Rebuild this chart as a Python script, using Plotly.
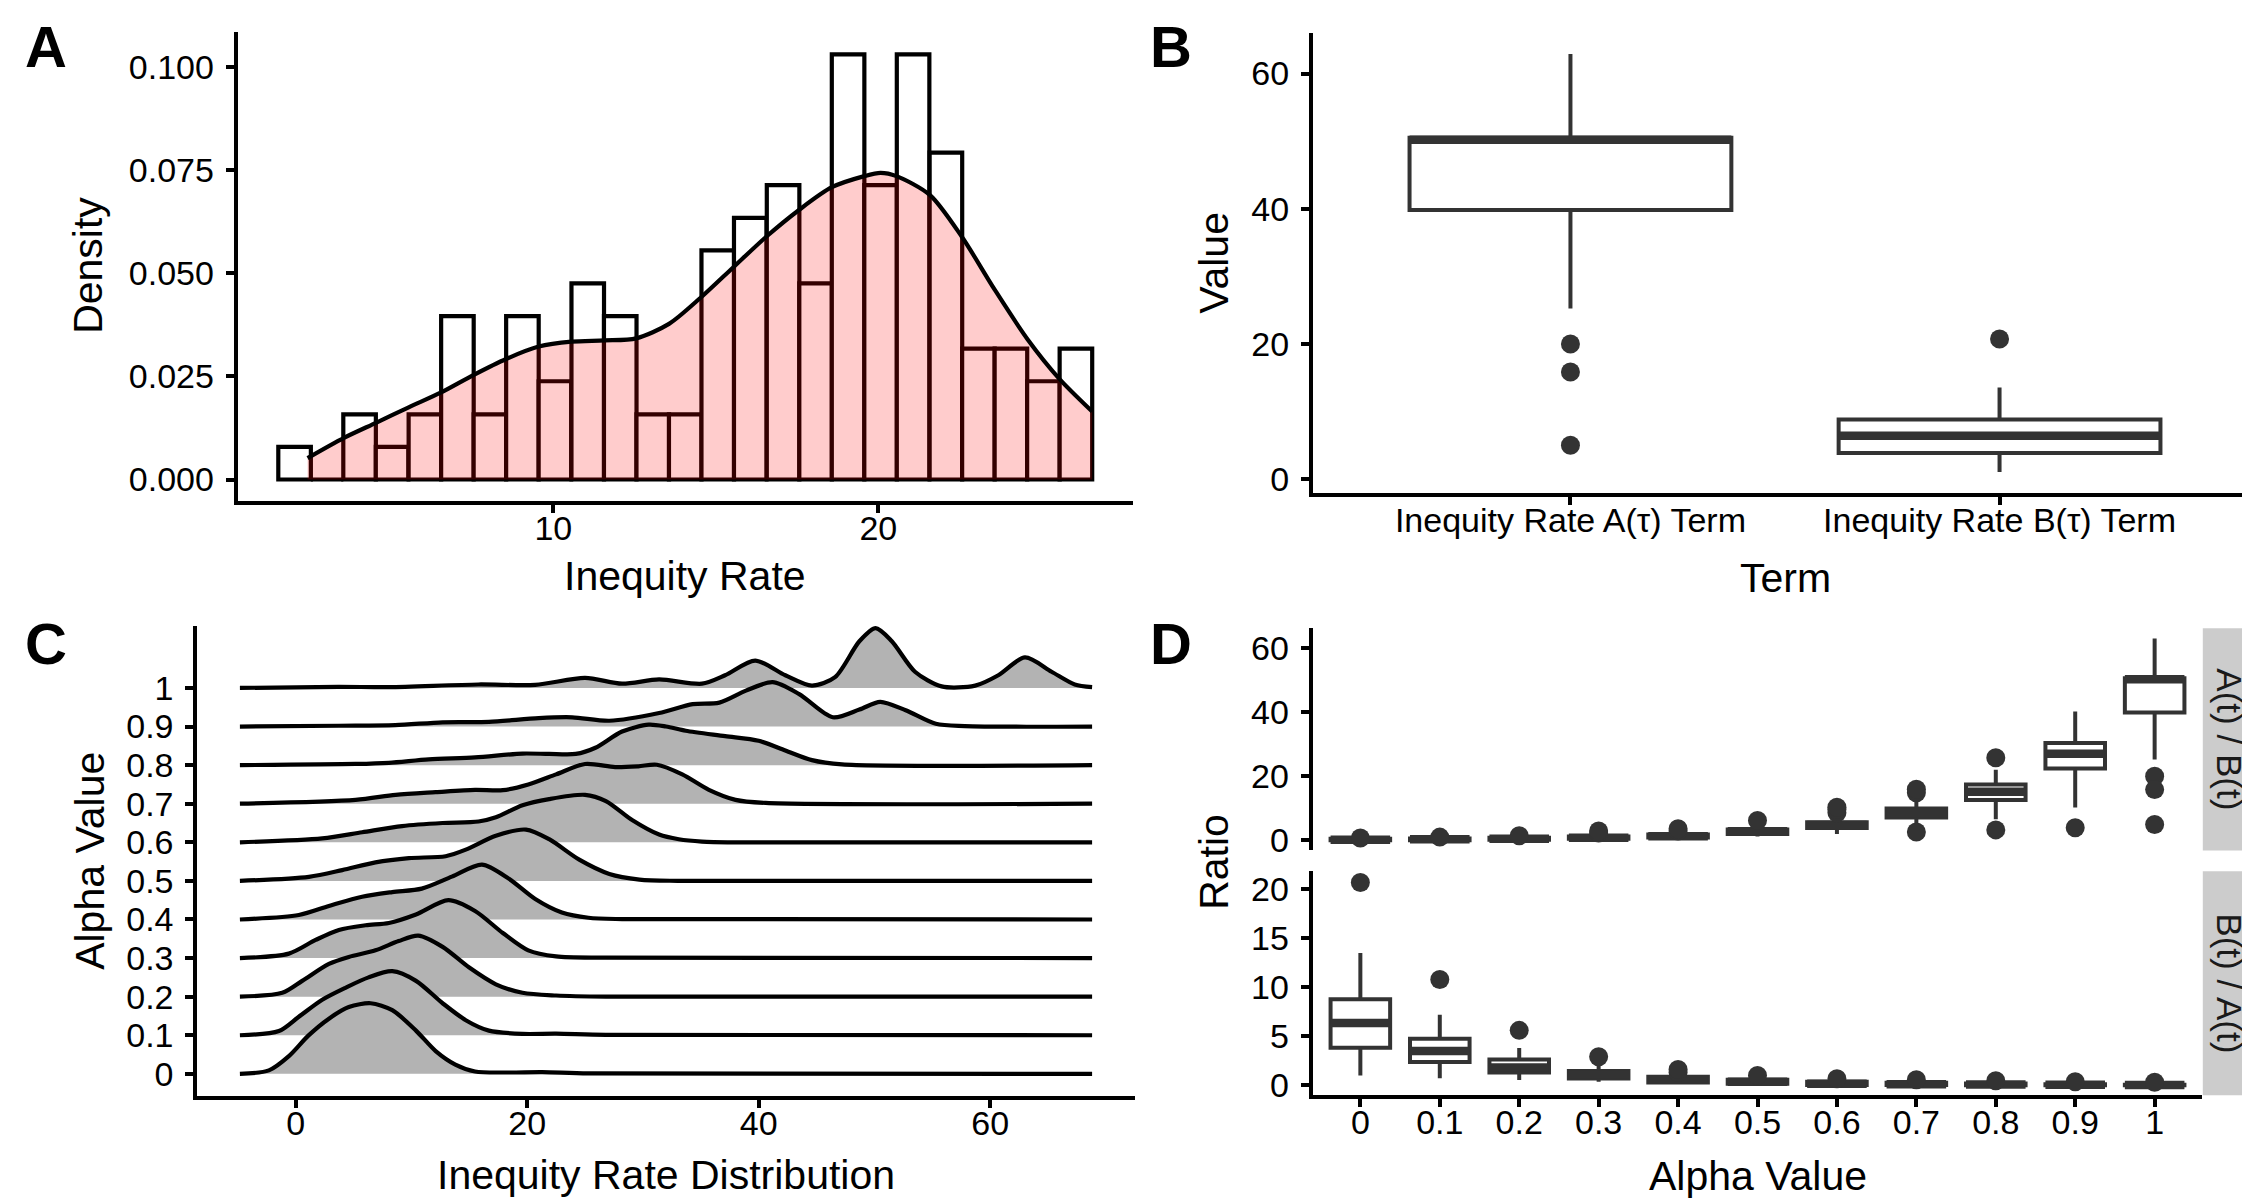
import plotly.graph_objects as go

W, H = 2250, 1200
FONT = "Liberation Sans, Arial, Helvetica, sans-serif"
BOX_COLOR = "#333333"

# ---------------- Panel A: histogram + density ----------------
hist_centers = [2.04, 3.04, 4.04, 5.04, 6.05, 7.05, 8.05, 9.05, 10.05, 11.06, 12.06, 13.06, 14.06,
                15.06, 16.06, 17.07, 18.07, 19.07, 20.07, 21.07, 22.08, 23.08, 24.08, 25.08, 26.08]
hist_width = 1.0016
hist_density = [0.0079, 0.0, 0.0158, 0.0079, 0.0158, 0.0396, 0.0158, 0.0396, 0.0238, 0.0475, 0.0396,
                0.0158, 0.0158, 0.0555, 0.0634, 0.0713, 0.0475, 0.1030, 0.0713, 0.1030, 0.0792,
                0.0317, 0.0317, 0.0238, 0.0317]
dens_x = [2.44, 3.56, 4.56, 5.55, 6.55, 7.54, 8.55, 9.55, 10.56, 11.57, 12.55, 13.56, 14.54, 15.55,
          16.55, 17.56, 18.57, 19.57, 20.07, 20.56, 21.59, 22.57, 23.58, 24.59, 25.57, 26.58]
dens_y = [0.0052, 0.0101, 0.0138, 0.0175, 0.0211, 0.0253, 0.0292, 0.0322, 0.0334, 0.0337, 0.0342,
          0.0377, 0.0441, 0.0515, 0.0588, 0.0653, 0.0708, 0.0735, 0.0743, 0.0735, 0.0689, 0.0588,
          0.0460, 0.0340, 0.0244, 0.0165]
a_xticks = [10, 20]
a_yticks = [0, 0.025, 0.05, 0.075, 0.1]

# ---------------- Panel B: boxplots of terms ----------------
terms = ["Inequity Rate A(τ) Term", "Inequity Rate B(τ) Term"]
term_pos = [1, 2]
term_q1 = [39.8, 3.83]
term_med = [50.2, 6.36]
term_q3 = [50.5, 8.77]
term_lo = [25.2, 1.0]
term_hi = [62.9, 13.5]
term_outliers = [[19.95, 15.8, 4.95], [20.7]]
b_yticks = [0, 20, 40, 60]

# ---------------- Panel C: ridgelines ----------------
alpha_labels = ["0", "0.1", "0.2", "0.3", "0.4", "0.5", "0.6", "0.7", "0.8", "0.9", "1"]
alpha_values = [0.0, 0.1, 0.2, 0.3, 0.4, 0.5, 0.6, 0.7, 0.8, 0.9, 1.0]
ridge_scale = 0.1

ridge0_x = [-4.81, -2.31, -0.58, 1.1, 2.88, 4.6, 6.48, 8.35, 10.4, 12.1, 13.8, 15.5, 18.4, 21.3, 25.3, 68.8]
ridge0_h = [0, 0.09, 0.46, 0.99, 1.43, 1.73, 1.83, 1.65, 1.12, 0.59, 0.24, 0.06, 0.035, 0.045, 0.01, 0]
ridge1_x = [-4.81, -1.44, 0.28, 2.3, 4.3, 6.3, 8.35, 10.4, 12.7, 14.7, 16.7, 19.6, 22.5, 26.8, 68.8]
ridge1_h = [0, 0.11, 0.48, 0.92, 1.23, 1.50, 1.66, 1.41, 0.83, 0.39, 0.12, 0.035, 0.04, 0.01, 0]
ridge2_x = [-4.81, -1.15, 0.57, 2.88, 4.6, 6.9, 8.9, 10.6, 12.7, 14.97, 17.3, 19.6, 22.5, 26.8, 68.8]
ridge2_h = [0, 0.10, 0.41, 0.85, 1.03, 1.20, 1.44, 1.58, 1.29, 0.76, 0.32, 0.10, 0.03, 0.0, 0]
ridge3_x = [-4.81, -0.58, 1.73, 3.74, 6.05, 8.06, 10.4, 13.2, 15.5, 17.9, 20.1, 22.5, 26.8, 68.8]
ridge3_h = [0, 0.115, 0.47, 0.73, 0.85, 0.91, 1.13, 1.50, 1.22, 0.65, 0.20, 0.044, 0.01, 0]
ridge4_x = [-4.81, 0.28, 2.88, 5.75, 8.35, 10.9, 13.5, 16.1, 18.4, 20.7, 23.0, 25.3, 28.2, 68.8]
ridge4_h = [0, 0.115, 0.35, 0.59, 0.71, 0.80, 1.11, 1.42, 1.06, 0.53, 0.18, 0.044, 0.01, 0]
ridge5_x = [-4.81, 1.15, 4.03, 6.9, 9.79, 12.96, 14.7, 17.3, 19.9, 21.9, 24.5, 27.1, 29.7, 33.0, 68.8]
ridge5_h = [0, 0.106, 0.28, 0.48, 0.59, 0.64, 0.81, 1.17, 1.33, 1.08, 0.55, 0.18, 0.035, 0.0, 0]
ridge6_x = [-4.81, 2.3, 5.75, 9.2, 12.7, 15.8, 17.3, 19.6, 21.9, 25.0, 26.8, 29.1, 31.4, 33.1, 35.1, 38.0, 68.8]
ridge6_h = [0, 0.10, 0.26, 0.42, 0.50, 0.54, 0.65, 0.96, 1.12, 1.23, 1.07, 0.57, 0.20, 0.08, 0.02, 0, 0]
ridge7_x = [-4.81, 5.18, 8.64, 12.1, 15.5, 17.9, 20.1, 22.5, 25.0, 27.6, 29.6, 31.2, 33.4, 35.7, 38.0, 40.6, 68.8]
ridge7_h = [0, 0.10, 0.23, 0.30, 0.36, 0.35, 0.50, 0.76, 1.03, 0.95, 0.97, 1.01, 0.76, 0.36, 0.10, 0.02, 0]
ridge8_x = [-4.81, 5.18, 8.06, 11.5, 15.5, 19.6, 21.9, 24.2, 25.9, 28.2, 30.5, 32.0, 33.7, 37.1, 40.0,
            42.3, 44.6, 47.2, 68.8]
ridge8_h = [0, 0.03, 0.06, 0.15, 0.20, 0.30, 0.29, 0.29, 0.45, 0.87, 1.05, 1.00, 0.89, 0.75, 0.63,
            0.38, 0.13, 0.02, 0]
ridge9_x = [-4.81, 3.74, 8.6, 12.7, 16.7, 21.0, 23.9, 27.1, 31.4, 34.3, 36.6, 38.9, 41.2, 43.5, 46.4,
            48.7, 50.5, 52.7, 55.3, 57.8, 68.8]
ridge9_h = [0, 0.02, 0.035, 0.11, 0.12, 0.22, 0.24, 0.15, 0.35, 0.58, 0.62, 0.93, 1.15, 0.84, 0.24,
            0.44, 0.64, 0.42, 0.07, 0.01, 0]
ridge10_x = [-4.81, 3.7, 8.06, 15.8, 20.7, 25.0, 28.2, 31.4, 35.1, 37.1, 39.7, 42.3, 44.6, 46.6, 48.7,
             50.1, 51.5, 53.5, 55.8, 58.7, 60.7, 63.0, 65.3, 67.3, 68.8]
ridge10_h = [0, 0.03, 0.02, 0.09, 0.08, 0.26, 0.11, 0.22, 0.11, 0.33, 0.71, 0.33, 0.06, 0.28, 1.21,
             1.55, 1.21, 0.42, 0.04, 0.06, 0.33, 0.79, 0.42, 0.09, 0.02]
c_xticks = [0, 20, 40, 60]

# ---------------- Panel D: ratio boxplots ----------------
alpha_pos = [0, 1, 2, 3, 4, 5, 6, 7, 8, 9, 10]
# A(t) / B(t)
ab_q1 = [0.0, 0.05, 0.2, 0.5, 0.9, 2.0, 3.8, 7.1, 12.6, 22.4, 39.8]
ab_med = [0.2, 0.3, 0.5, 0.8, 1.3, 2.8, 4.8, 8.5, 15.1, 27.0, 50.2]
ab_q3 = [0.5, 0.6, 0.8, 1.2, 1.8, 3.4, 5.6, 9.9, 17.4, 30.3, 50.5]
ab_lo = [0.0, 0.0, 0.0, 0.2, 0.5, 1.2, 1.95, 5.0, 6.6, 10.2, 25.2]
ab_hi = [0.5, 0.6, 0.9, 1.8, 2.6, 4.5, 7.5, 12.5, 22.0, 40.1, 62.9]
ab_outliers = [[0.7], [1.0], [1.4], [2.3, 2.9], [2.9, 3.6], [6.2], [8.6, 9.6, 10.3],
               [14.8, 15.9, 2.6], [25.7, 3.25], [3.9], [19.95, 15.8, 4.95]]
# B(t) / A(t)
ba_q1 = [3.83, 2.38, 1.3, 0.69, 0.28, 0.15, 0.02, 0.01, 0.0, 0.0, 0.0]
ba_med = [6.36, 3.5, 1.8, 1.1, 0.6, 0.35, 0.15, 0.1, 0.07, 0.04, 0.02]
ba_q3 = [8.77, 4.75, 2.62, 1.44, 0.87, 0.55, 0.35, 0.25, 0.18, 0.1, 0.05]
ba_lo = [1.0, 0.7, 0.53, 0.35, 0.1, 0.02, 0.0, 0.0, 0.0, 0.0, 0.0]
ba_hi = [13.5, 7.2, 3.8, 2.0, 1.1, 0.8, 0.55, 0.4, 0.3, 0.2, 0.1]
ba_outliers = [[20.7], [10.8], [5.6], [2.9], [1.3, 1.6], [1.0], [0.65], [0.55], [0.45], [0.35], [0.3]]
d_top_yticks = [0, 20, 40, 60]
d_bot_yticks = [0, 5, 10, 15, 20]
strip_labels = ["A(t) / B(t)", "B(t) / A(t)"]

BOX_WIDTH = 0.75
LINE_W = 4.2
BOX_LINE_W = 4
MEDIAN_W = 8.5


def px_x(p):
    return p / W


def px_y(p):
    return 1 - p / H


fig = go.Figure()

# ---- Panel A traces
fig.add_trace(go.Bar(x=hist_centers, y=hist_density, width=hist_width,
                     marker=dict(color="white", line=dict(color="black", width=LINE_W)),
                     xaxis="x", yaxis="y", showlegend=False, hoverinfo="skip"))
fig.add_trace(go.Scatter(x=dens_x, y=dens_y, mode="lines", fill="tozeroy",
                         fillcolor="rgba(255,0,0,0.2)",
                         line=dict(color="black", width=LINE_W, shape="spline", smoothing=0.8),
                         xaxis="x", yaxis="y", showlegend=False, hoverinfo="skip"))


def add_boxes(pos, q1, med, q3, lo, hi, outliers, xa, ya):
    fig.add_trace(go.Box(x=pos, q1=q1, median=med, q3=q3, lowerfence=lo, upperfence=hi,
                         width=BOX_WIDTH, fillcolor="white",
                         line=dict(color=BOX_COLOR, width=BOX_LINE_W), whiskerwidth=0,
                         boxpoints=False, xaxis=xa, yaxis=ya, showlegend=False,
                         hoverinfo="skip"))
    mx, my = [], []
    for p, m in zip(pos, med):
        mx += [p - BOX_WIDTH / 2, p + BOX_WIDTH / 2, None]
        my += [m, m, None]
    fig.add_trace(go.Scatter(x=mx, y=my, mode="lines", line=dict(color=BOX_COLOR, width=MEDIAN_W),
                             xaxis=xa, yaxis=ya, showlegend=False, hoverinfo="skip"))
    ox, oy = [], []
    for p, outs in zip(pos, outliers):
        for v in outs:
            ox.append(p)
            oy.append(v)
    fig.add_trace(go.Scatter(x=ox, y=oy, mode="markers",
                             marker=dict(color=BOX_COLOR, size=19, line=dict(width=0)),
                             xaxis=xa, yaxis=ya, showlegend=False, hoverinfo="skip"))


# ---- Panel B traces
add_boxes(term_pos, term_q1, term_med, term_q3, term_lo, term_hi, term_outliers, "x2", "y2")

# ---- Panel C traces (top ridge first so lower ridges overlay)
ridges = [
    (ridge0_x, ridge0_h), (ridge1_x, ridge1_h), (ridge2_x, ridge2_h), (ridge3_x, ridge3_h),
    (ridge4_x, ridge4_h), (ridge5_x, ridge5_h), (ridge6_x, ridge6_h), (ridge7_x, ridge7_h),
    (ridge8_x, ridge8_h), (ridge9_x, ridge9_h), (ridge10_x, ridge10_h),
]
for a, (rx, rh) in reversed(list(zip(alpha_values, ridges))):
    fig.add_trace(go.Scatter(x=[rx[0], rx[-1]], y=[a, a], mode="lines",
                             line=dict(width=0, color="rgba(0,0,0,0)"),
                             xaxis="x3", yaxis="y3", showlegend=False, hoverinfo="skip"))
    fig.add_trace(go.Scatter(x=rx, y=[a + h * ridge_scale for h in rh], mode="lines",
                             fill="tonexty", fillcolor="#B3B3B3",
                             line=dict(color="black", width=LINE_W, shape="spline", smoothing=0.8),
                             xaxis="x3", yaxis="y3", showlegend=False, hoverinfo="skip"))

# ---- Panel D traces
add_boxes(alpha_pos, ab_q1, ab_med, ab_q3, ab_lo, ab_hi, ab_outliers, "x4", "y4")
add_boxes(alpha_pos, ba_q1, ba_med, ba_q3, ba_lo, ba_hi, ba_outliers, "x5", "y5")

# ---- axes
common = dict(showline=True, linecolor="black", linewidth=4, ticks="outside", ticklen=8,
              tickwidth=4, tickcolor="black", showgrid=False, zeroline=False,
              tickfont=dict(family=FONT, size=34, color="black"), fixedrange=True)
xcommon = dict(common, ticklabelstandoff=-14)
ycommon = dict(common, ticklabelstandoff=5)

D_X = [px_x(1304.7), px_x(2194.3)]

fig.update_layout(
    width=W, height=H, margin=dict(l=0, r=0, t=0, b=0),
    paper_bgcolor="white", plot_bgcolor="white", showlegend=False,
    font=dict(family=FONT, color="black"),
    xaxis=dict(domain=[px_x(229.7), px_x(1124.8)], range=[0.29, 27.83], tickvals=a_xticks,
               anchor="y", **xcommon),
    yaxis=dict(domain=[px_y(496.0), px_y(22.8)], range=[-0.00517, 0.1085], tickvals=a_yticks,
               tickformat=".3f", anchor="x", **ycommon),
    xaxis2=dict(domain=[px_x(1305), px_x(2249)], range=[0.4, 2.6], tickvals=term_pos,
                ticktext=terms, anchor="y2", **xcommon),
    yaxis2=dict(domain=[px_y(488.0), px_y(24.2)], range=[-2.1, 66.0], tickvals=b_yticks,
                anchor="x2", **ycommon),
    xaxis3=dict(domain=[px_x(189.3), px_x(1126.7)], range=[-8.49, 72.48], tickvals=c_xticks,
                anchor="y3", **xcommon),
    yaxis3=dict(domain=[px_y(1096.6), px_y(622)], range=[-0.0586, 1.161], tickvals=alpha_values,
                ticktext=alpha_labels, anchor="x3", **ycommon),
    xaxis4=dict(domain=D_X, range=[-0.6, 10.6], anchor="y4", visible=False, fixedrange=True),
    yaxis4=dict(domain=[px_y(848.5), px_y(624.5)], range=[-3.15, 66.05], tickvals=d_top_yticks,
                anchor="x4", **ycommon),
    xaxis5=dict(domain=D_X, range=[-0.6, 10.6], tickvals=alpha_pos, ticktext=alpha_labels,
                anchor="y5", **xcommon),
    yaxis5=dict(domain=[px_y(1095.5), px_y(869.6)], range=[-1.04, 21.84], tickvals=d_bot_yticks,
                anchor="x5", **ycommon),
)

# facet strips
fig.add_shape(type="rect", xref="paper", yref="paper", x0=px_x(2194.8), x1=1.0,
              y0=px_y(848.5), y1=px_y(624.5), fillcolor="#CCCCCC", line=dict(width=0), layer="below")
fig.add_shape(type="rect", xref="paper", yref="paper", x0=px_x(2194.8), x1=1.0,
              y0=px_y(1095.5), y1=px_y(869.6), fillcolor="#CCCCCC", line=dict(width=0), layer="below")


def ann(text, x, y, size, angle=0, bold=False, color="black"):
    fig.add_annotation(text=f"<b>{text}</b>" if bold else text, x=px_x(x), y=px_y(y),
                       xref="paper", yref="paper", showarrow=False, textangle=angle,
                       xanchor="center", yanchor="middle",
                       font=dict(family=FONT, size=size, color=color))


# strip labels
ann(strip_labels[0], 2222, 736.5, 35, angle=90, color="#1A1A1A")
ann(strip_labels[1], 2222, 982.5, 35, angle=90, color="#1A1A1A")

# panel letters
ann("A", 38, 38, 58, bold=True)
ann("B", 1163, 38, 58, bold=True)
ann("C", 38, 640, 58, bold=True)
ann("D", 1163, 640, 58, bold=True)

# axis titles
ann("Density", 80, 259, 41, angle=-90)
ann("Inequity Rate", 677, 572, 41)
ann("Value", 1206, 256, 41, angle=-90)
ann("Term", 1777, 574, 41)
ann("Alpha Value", 82, 859, 41, angle=-90)
ann("Inequity Rate Distribution", 658, 1176, 41)
ann("Ratio", 1206, 860, 41, angle=-90)
ann("Alpha Value", 1749.5, 1177, 41)

fig.write_html("out.html")
